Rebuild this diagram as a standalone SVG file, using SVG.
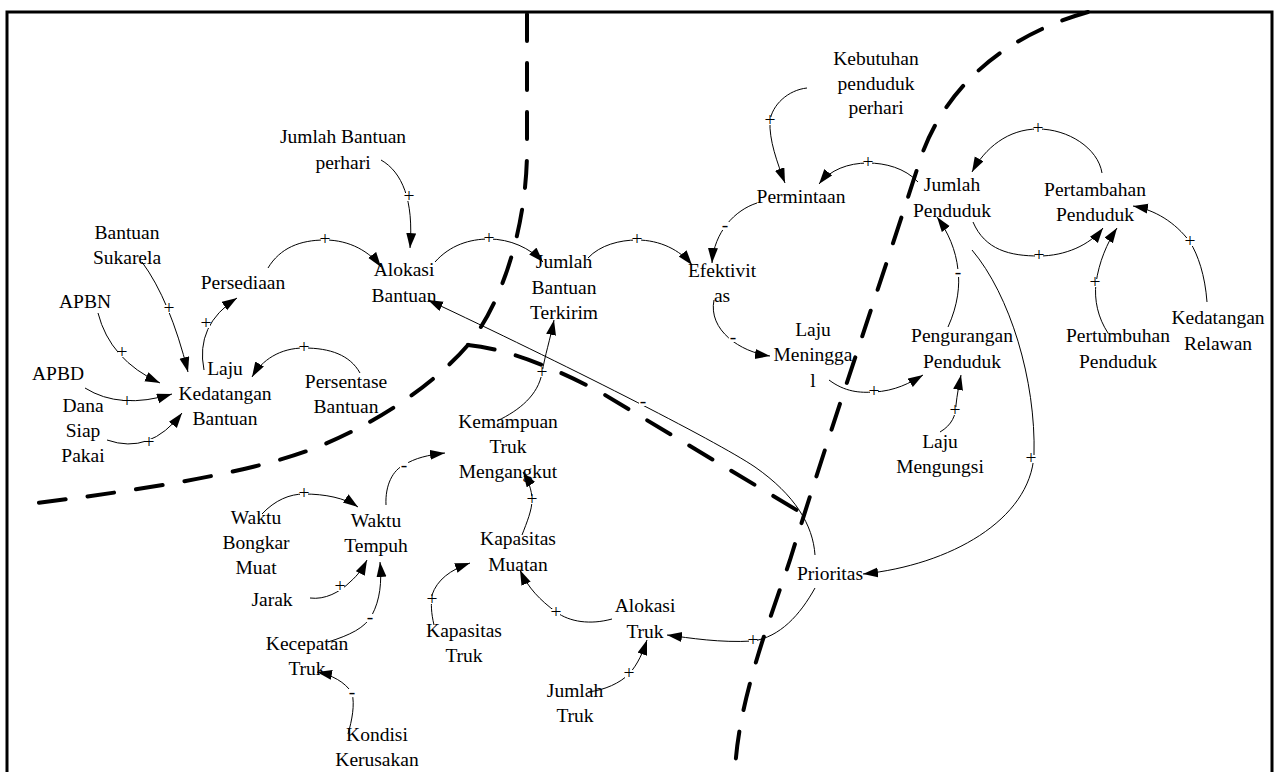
<svg xmlns="http://www.w3.org/2000/svg" width="1276" height="772" viewBox="0 0 1276 772">
<style>
.lbl{font-family:"Liberation Serif","Times New Roman",serif;font-size:19.5px;fill:#000;text-anchor:middle}
.c{fill:none;stroke:#000;stroke-width:1;marker-end:url(#ah)}
.s{opacity:0.999}
.s text{font-family:"Liberation Serif","Times New Roman",serif;font-size:19.5px;fill:#000;text-anchor:middle}
.s rect{fill:#fff;width:8px;height:8px}
.b{fill:none;stroke:#000;stroke-width:4;stroke-dasharray:27 22;stroke-linecap:round}
</style>
<defs>
<marker id="ah" markerWidth="16" markerHeight="12" refX="15" refY="5" orient="auto" markerUnits="userSpaceOnUse"><path d="M0,0 L15,5 L0,10 z" fill="#000"/></marker>
</defs>
<rect width="1276" height="772" fill="#fff"/>
<path d="M7,772 V12 H1272 V772" fill="none" stroke="#000" stroke-width="3"/>
<g id="boundaries">
<path class="b" d="M527,14 L527,150 C527,220 505,300 468,345"/>
<path class="b" d="M468,345 C445,372 395,415 320,446 C245,477 100,495 22,505"/>
<path class="b" d="M468,345 Q520,350 600,392 L805,515"/>
<path class="b" d="M1088,12 C990,40 940,100 920,160 C885,270 830,430 790,560 C770,620 738,700 735,772"/>
</g>
<g id="connectors">
<path class="c" d="M142,262 Q170,300 188,372"/>
<path class="c" d="M98,313 Q110,360 160,383"/>
<path class="c" d="M85,388 Q120,410 172,394"/>
<path class="c" d="M107,440 Q150,455 182,413"/>
<path class="c" d="M204,370 Q195,325 237,298"/>
<path class="c" d="M268,268 C280,248 300,240 325,240 C350,240 370,252 381,267"/>
<path class="c" d="M381,160 C402,172 414,200 410,248"/>
<path class="c" d="M435,262 C450,245 470,239 489,239 C510,239 530,248 543,262"/>
<path class="c" d="M588,258 C600,245 620,240 637,240 C660,240 680,250 692,265"/>
<path class="c" d="M807,88 C788,90 772,105 770,121 C769,140 777,162 785,183"/>
<path class="c" d="M918,182 C905,168 885,163 868,163 C848,163 830,170 819,184"/>
<path class="c" d="M757,203 C735,210 714,232 712,263"/>
<path class="c" d="M714,300 C708,330 740,352 770,356"/>
<path class="c" d="M829,380 C845,392 860,393 874,392 C895,391 910,383 923,375"/>
<path class="c" d="M948,327 C958,305 960,285 958,270 C956,250 948,232 937,217"/>
<path class="c" d="M940,432 C952,425 956,415 956,405 C957,395 959,385 961,375"/>
<path class="c" d="M973,222 C985,250 1010,256 1039,256 C1065,256 1090,245 1103,228"/>
<path class="c" d="M1102,173 C1098,148 1068,129 1038,129 C1008,129 985,148 972,172"/>
<path class="c" d="M1108,333 C1098,318 1094,300 1096,283 C1099,262 1107,243 1117,228"/>
<path class="c" d="M1207,302 C1205,275 1198,255 1190,242 C1175,222 1155,210 1133,206"/>
<path class="c" d="M972,250 C1010,295 1036,380 1034,455 C1030,520 950,565 863,574"/>
<path class="c" d="M815,555 C813,525 795,495 755,467 C715,440 560,362 428,300"/>
<path class="c" d="M497,421 C520,410 538,395 542,373 C545,355 550,340 554,320"/>
<path class="c" d="M386,505 C385,485 393,470 404,465 C415,458 428,455 445,453"/>
<path class="c" d="M522,535 C527,522 532,510 532,500 C532,490 528,480 523,472"/>
<path class="c" d="M262,514 C275,500 290,494 304,494 C325,494 345,498 358,507"/>
<path class="c" d="M310,598 C325,600 340,592 350,582 C358,575 363,568 367,560"/>
<path class="c" d="M328,642 C350,635 365,628 372,615 C380,600 382,582 380,562"/>
<path class="c" d="M348,734 C352,720 355,705 352,693 C345,682 332,675 317,672"/>
<path class="c" d="M434,625 C431,612 431,605 432,595 C437,580 450,570 470,563"/>
<path class="c" d="M612,619 C590,625 570,622 556,612 C540,600 528,588 520,570"/>
<path class="c" d="M588,692 C605,690 620,683 629,674 C638,664 643,652 647,640"/>
<path class="c" d="M815,588 C800,615 780,637 753,641 C720,643 690,638 667,635"/>
<path class="c" d="M360,373 C350,355 330,348 304,348 C280,348 262,360 252,377"/>
<g id="signs" class="s">
<rect x="165" y="305"/><text x="169" y="314">+</text>
<rect x="118" y="349"/><text x="122" y="358">+</text>
<rect x="123" y="398"/><text x="127" y="407">+</text>
<rect x="145" y="439"/><text x="149" y="448">+</text>
<rect x="202" y="320"/><text x="206" y="329">+</text>
<rect x="321" y="236"/><text x="325" y="245">+</text>
<rect x="405" y="193"/><text x="409" y="202">+</text>
<rect x="485" y="235"/><text x="489" y="244">+</text>
<rect x="633" y="236"/><text x="637" y="245">+</text>
<rect x="766" y="117"/><text x="770" y="126">+</text>
<rect x="864" y="159"/><text x="868" y="168">+</text>
<rect x="721" y="222"/><text x="725" y="231">-</text>
<rect x="729" y="334"/><text x="733" y="343">-</text>
<rect x="870" y="388"/><text x="874" y="397">+</text>
<rect x="954" y="269"/><text x="958" y="278">-</text>
<rect x="951" y="407"/><text x="955" y="416">+</text>
<rect x="1035" y="252"/><text x="1039" y="261">+</text>
<rect x="1034" y="125"/><text x="1038" y="134">+</text>
<rect x="1091" y="279"/><text x="1095" y="288">+</text>
<rect x="1186" y="238"/><text x="1190" y="247">+</text>
<rect x="1027" y="455"/><text x="1031" y="464">+</text>
<rect x="639" y="398"/><text x="643" y="407">-</text>
<rect x="538" y="369"/><text x="542" y="378">+</text>
<rect x="400" y="462"/><text x="404" y="471">-</text>
<rect x="528" y="496"/><text x="532" y="505">+</text>
<rect x="300" y="490"/><text x="304" y="499">+</text>
<rect x="336" y="583"/><text x="340" y="592">+</text>
<rect x="366" y="614"/><text x="370" y="623">-</text>
<rect x="348" y="689"/><text x="352" y="698">-</text>
<rect x="428" y="596"/><text x="432" y="605">+</text>
<rect x="552" y="609"/><text x="556" y="618">+</text>
<rect x="625" y="670"/><text x="629" y="679">+</text>
<rect x="749" y="637"/><text x="753" y="646">+</text>
<rect x="300" y="344"/><text x="304" y="353">+</text>
</g>
</g>
<g id="jumlah_bantuan_perhari"><text class="lbl"><tspan x="343" y="143">Jumlah Bantuan</tspan><tspan x="343" y="169">perhari</tspan></text></g>
<g id="bantuan_sukarela"><text class="lbl"><tspan x="127" y="239">Bantuan</tspan><tspan x="127" y="264">Sukarela</tspan></text></g>
<g id="apbn"><text class="lbl" x="85" y="308">APBN</text></g>
<g id="apbd"><text class="lbl" x="58" y="380">APBD</text></g>
<g id="dana_siap_pakai"><text class="lbl"><tspan x="83" y="412">Dana</tspan><tspan x="83" y="437">Siap</tspan><tspan x="83" y="462">Pakai</tspan></text></g>
<g id="persediaan"><text class="lbl" x="243" y="289">Persediaan</text></g>
<g id="laju_kedatangan_bantuan"><text class="lbl"><tspan x="225" y="375">Laju</tspan><tspan x="225" y="400">Kedatangan</tspan><tspan x="225" y="425">Bantuan</tspan></text></g>
<g id="alokasi_bantuan"><text class="lbl"><tspan x="404" y="276">Alokasi</tspan><tspan x="404" y="302">Bantuan</tspan></text></g>
<g id="jumlah_bantuan_terkirim"><text class="lbl"><tspan x="564" y="268">Jumlah</tspan><tspan x="564" y="294">Bantuan</tspan><tspan x="564" y="319">Terkirim</tspan></text></g>
<g id="persentase_bantuan"><text class="lbl"><tspan x="346" y="388">Persentase</tspan><tspan x="346" y="413">Bantuan</tspan></text></g>
<g id="kemampuan_truk"><text class="lbl"><tspan x="508" y="428">Kemampuan</tspan><tspan x="508" y="453">Truk</tspan><tspan x="508" y="478">Mengangkut</tspan></text></g>
<g id="waktu_bongkar_muat"><text class="lbl"><tspan x="256" y="524">Waktu</tspan><tspan x="256" y="549">Bongkar</tspan><tspan x="256" y="574">Muat</tspan></text></g>
<g id="waktu_tempuh"><text class="lbl"><tspan x="376" y="527">Waktu</tspan><tspan x="376" y="552">Tempuh</tspan></text></g>
<g id="jarak"><text class="lbl" x="272" y="606">Jarak</text></g>
<g id="kecepatan_truk"><text class="lbl"><tspan x="307" y="650">Kecepatan</tspan><tspan x="307" y="675">Truk</tspan></text></g>
<g id="kondisi_kerusakan"><text class="lbl"><tspan x="377" y="741">Kondisi</tspan><tspan x="377" y="766">Kerusakan</tspan></text></g>
<g id="kapasitas_muatan"><text class="lbl"><tspan x="518" y="545">Kapasitas</tspan><tspan x="518" y="571">Muatan</tspan></text></g>
<g id="kapasitas_truk"><text class="lbl"><tspan x="464" y="637">Kapasitas</tspan><tspan x="464" y="662">Truk</tspan></text></g>
<g id="alokasi_truk"><text class="lbl"><tspan x="645" y="612">Alokasi</tspan><tspan x="645" y="638">Truk</tspan></text></g>
<g id="jumlah_truk"><text class="lbl"><tspan x="575" y="697">Jumlah</tspan><tspan x="575" y="722">Truk</tspan></text></g>
<g id="prioritas"><text class="lbl" x="830" y="580">Prioritas</text></g>
<g id="kebutuhan_penduduk"><text class="lbl"><tspan x="876" y="65">Kebutuhan</tspan><tspan x="876" y="90">penduduk</tspan><tspan x="876" y="114">perhari</tspan></text></g>
<g id="permintaan"><text class="lbl" x="801" y="203">Permintaan</text></g>
<g id="efektivitas"><text class="lbl"><tspan x="722" y="277">Efektivit</tspan><tspan x="722" y="302">as</tspan></text></g>
<g id="laju_meninggal"><text class="lbl"><tspan x="813" y="336">Laju</tspan><tspan x="813" y="361">Meningga</tspan><tspan x="813" y="387">l</tspan></text></g>
<g id="jumlah_penduduk"><text class="lbl"><tspan x="952" y="191">Jumlah</tspan><tspan x="952" y="217">Penduduk</tspan></text></g>
<g id="pertambahan_penduduk"><text class="lbl"><tspan x="1095" y="196">Pertambahan</tspan><tspan x="1095" y="221">Penduduk</tspan></text></g>
<g id="pengurangan_penduduk"><text class="lbl"><tspan x="962" y="342">Pengurangan</tspan><tspan x="962" y="368">Penduduk</tspan></text></g>
<g id="pertumbuhan_penduduk"><text class="lbl"><tspan x="1118" y="342">Pertumbuhan</tspan><tspan x="1118" y="368">Penduduk</tspan></text></g>
<g id="kedatangan_relawan"><text class="lbl"><tspan x="1218" y="324">Kedatangan</tspan><tspan x="1218" y="350">Relawan</tspan></text></g>
<g id="laju_mengungsi"><text class="lbl"><tspan x="940" y="448">Laju</tspan><tspan x="940" y="473">Mengungsi</tspan></text></g>
</svg>
